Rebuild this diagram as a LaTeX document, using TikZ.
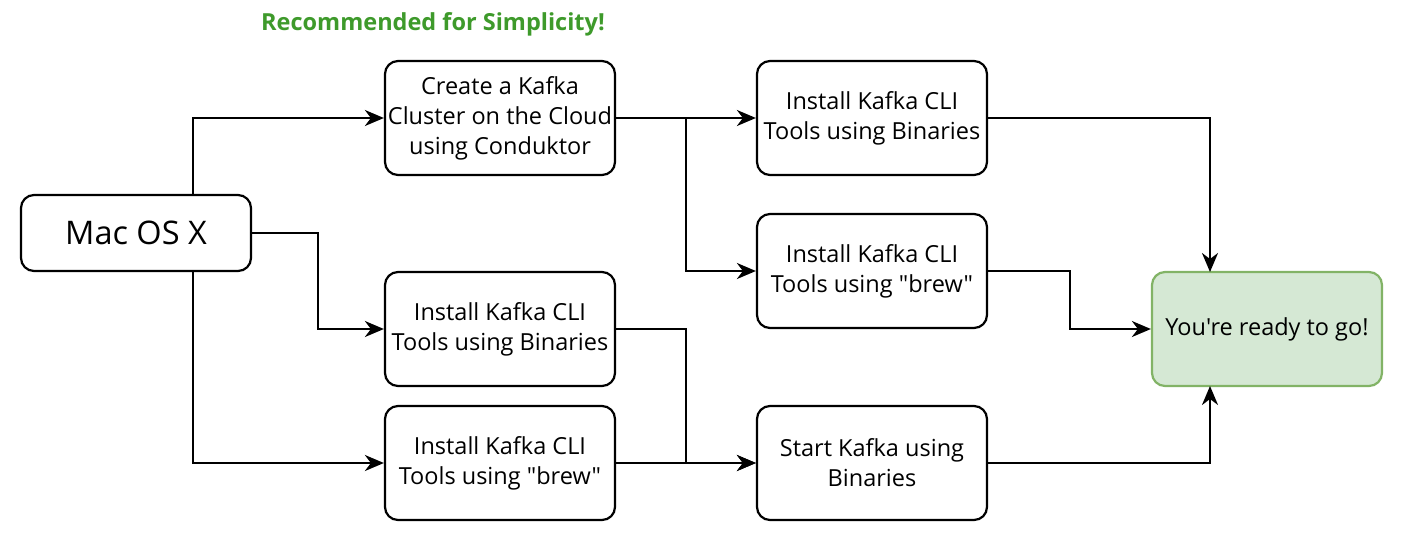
\documentclass[tikz,border=0pt]{standalone}
\usepackage{fontspec}
\setmainfont{Open Sans}[Ligatures=TeXOff]
\usetikzlibrary{arrows.meta}
\definecolor{titlegreen}{HTML}{3E9A2B}
\definecolor{okfill}{HTML}{D5E8D4}
\definecolor{okdraw}{HTML}{82B366}
\tikzset{
  stepbox/.style={draw=black, line width=2.2pt, rounded corners=13pt, minimum width=230pt, minimum height=114pt, align=center, font=\fontsize{23.5}{30}\selectfont, inner sep=0pt},
  link/.style={draw=black, line width=2.2pt, -{Stealth[length=19pt,width=16pt,inset=6pt]}}
}
\begin{document}
\begin{tikzpicture}[x=1pt,y=-1pt]
\useasboundingbox (0,0) rectangle (1408,542);
\node[text=titlegreen, font=\fontsize{23.5}{27}\selectfont\bfseries] (title) at (433,24) {Recommended for Simplicity!};
\node[stepbox, minimum height=76pt, font=\fontsize{32.5}{36}\selectfont] (mac) at (136,233) {Mac OS X};
\node[stepbox] (cloud) at (500,118) {Create a Kafka\\Cluster on the Cloud\\using Conduktor};
\node[stepbox] (lbin) at (500,329) {Install Kafka CLI\\Tools using Binaries};
\node[stepbox] (lbrew) at (500,463) {Install Kafka CLI\\Tools using "brew"};
\node[stepbox] (rbin) at (872,118) {Install Kafka CLI\\Tools using Binaries};
\node[stepbox] (rbrew) at (872,271) {Install Kafka CLI\\Tools using "brew"};
\node[stepbox] (start) at (872,463) {Start Kafka using\\Binaries};
\node[stepbox, fill=okfill, draw=okdraw] (ready) at (1267,329) {You're ready to go!};
\coordinate (macT) at (193,195);
\coordinate (macB) at (193,271);
\coordinate (readyT) at (1210,272);
\coordinate (readyB) at (1210,386);
\draw[link] (macT) |- (cloud.west);
\draw[link] (mac.east) -- (318,233) |- (lbin.west);
\draw[link] (macB) |- (lbrew.west);
\draw[link] (cloud.east) -- (rbin.west);
\draw[link] (686,118) |- (rbrew.west);
\draw[link] (lbin.east) -- (686,329) |- (start.west);
\draw[link] (lbrew.east) -- (start.west);
\draw[link] (rbin.east) -| (readyT);
\draw[link] (rbrew.east) -- (1070,271) |- (ready.west);
\draw[link] (start.east) -| (readyB);
\end{tikzpicture}
\end{document}
